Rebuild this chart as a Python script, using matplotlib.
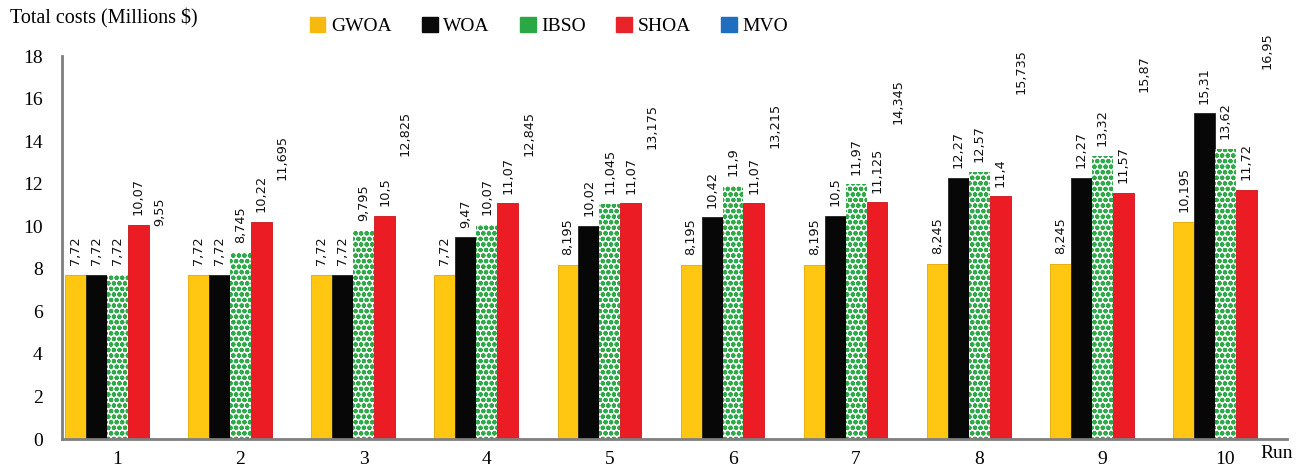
import numpy as np
import matplotlib
matplotlib.use("Agg")
import matplotlib.pyplot as plt
from matplotlib.patches import Patch

runs = ["1", "2", "3", "4", "5", "6", "7", "8", "9", "10"]
series_names = ["GWOA", "WOA", "IBSO", "SHOA", "MVO"]
gwoa = [7.72, 7.72, 7.72, 7.72, 8.195, 8.195, 8.195, 8.245, 8.245, 10.195]
woa = [7.72, 7.72, 7.72, 9.47, 10.02, 10.42, 10.5, 12.27, 12.27, 15.31]
ibso = [7.72, 8.745, 9.795, 10.07, 11.045, 11.9, 11.97, 12.57, 13.32, 13.62]
shoa = [10.07, 10.22, 10.5, 11.07, 11.07, 11.07, 11.125, 11.4, 11.57, 11.72]
mvo = [9.55, 11.695, 12.825, 12.845, 13.175, 13.215, 14.345, 15.735, 15.87, 16.95]

serif = ["Liberation Serif", "DejaVu Serif"]
plt.rcParams["hatch.linewidth"] = 1.5

fig = plt.figure(figsize=(13.04, 4.70), dpi=100)
ax = fig.add_axes([62 / 1304, 31 / 470, 1225 / 1304, 383 / 470])

x = np.arange(1, len(runs) + 1)
width = 0.17
offsets = (np.arange(5) - 2) * width

styles = [
    dict(color="#FFC712", edgecolor="#E0A800", linewidth=0.6),
    dict(color="#070707", edgecolor="#202020", linewidth=0.6),
    dict(facecolor="#FFFFFF", edgecolor="#2EAB48", hatch="ooo", linewidth=0),
    dict(color="#EC1C24", edgecolor="#C8141A", linewidth=0.6),
    dict(facecolor="none", edgecolor="none", linewidth=0),
]
values = [gwoa, woa, ibso, shoa, mvo]

for vals, off, st in zip(values, offsets, styles):
    bars = ax.bar(x + off, vals, width, **st)
    ax.bar_label(bars, labels=[f"{v:g}".replace(".", ",") for v in vals],
                 rotation=90, padding=7, fontsize=9.3, color="#111111",
                 family="DejaVu Sans")

ax.set_xlim(0.55, 10.5)
ax.set_ylim(0, 18)
ax.set_yticks(np.arange(0, 19, 2))
ax.set_xticks(x)
ax.set_xticklabels(runs)
for lab in ax.get_xticklabels() + ax.get_yticklabels():
    lab.set_fontfamily(serif)
    lab.set_fontsize(14)
ax.tick_params(axis="both", length=0)
ax.tick_params(axis="x", pad=9)
ax.tick_params(axis="y", pad=14)

for s in ["top", "right"]:
    ax.spines[s].set_visible(False)
for s in ["left", "bottom"]:
    ax.spines[s].set_color("#7F7F7F")
    ax.spines[s].set_linewidth(2)

fig.text(10 / 1304, 1 - 18 / 470, "Total costs (Millions $)", family=serif,
         fontsize=14.5, va="center", ha="left")
fig.text(1260 / 1304, 1 - 454 / 470, "Run", family=serif, fontsize=14,
         va="center", ha="left")

legend_colors = ["#F7B90F", "#0A0A0A", "#2AA845", "#E8232A", "#1E6FC2"]
handles = [Patch(facecolor=c, edgecolor=c) for c in legend_colors]
fig.legend(handles, series_names, loc="center", bbox_to_anchor=(549 / 1304, 1 - 26 / 470),
           ncol=5, frameon=False, prop={"family": serif, "size": 14},
           handlelength=0.8, handleheight=0.8, handletextpad=0.3, columnspacing=1.55)

fig.savefig("out.png", dpi=100)
